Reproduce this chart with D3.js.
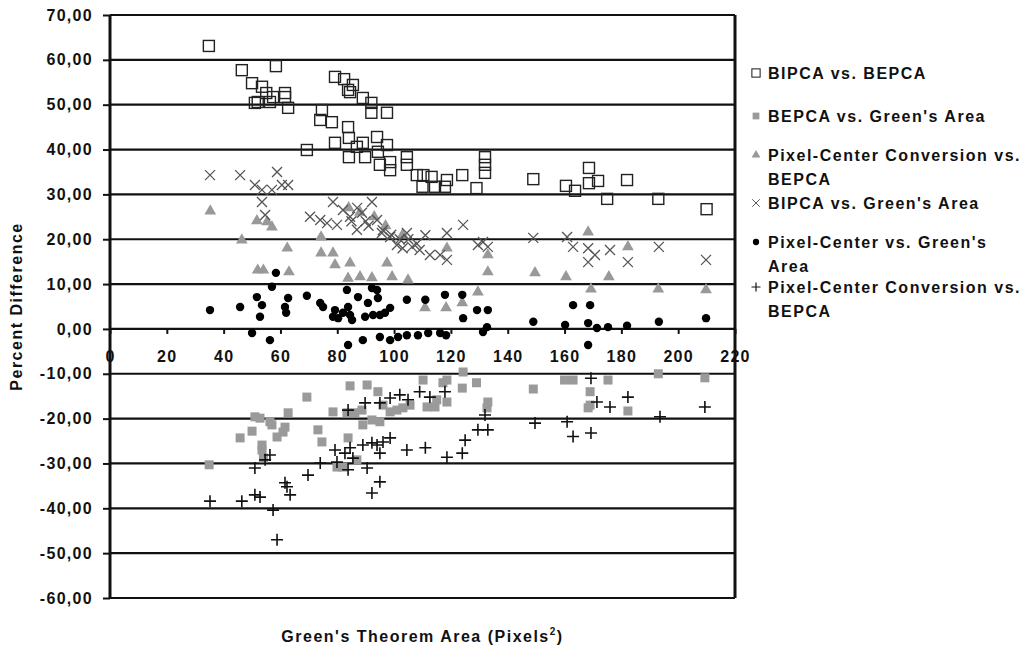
<!DOCTYPE html>
<html>
<head>
<meta charset="utf-8">
<script src="https://cdn.jsdelivr.net/npm/d3@7"></script>
<style>
  body { margin: 0; background: #fff; }
  svg text { font-family: Arial, "Liberation Sans", sans-serif; font-weight: bold; fill: #111; }
</style>
</head>
<body>
<div id="chart"></div>
<script>
// values, [area, percent difference]
const bipcaBepca = [[34.8,63.1],[46.4,57.7],[50,54.8],[53.5,54],[55,52.6],[51,50.4],[52,50.6],[56.3,50.6],[57.4,51.7],[58.4,58.6],[61.6,52.6],[61.6,51.7],[62.7,49.3],[69.3,39.9],[74.6,48.8],[74,46.6],[78.1,46.1],[79.2,56.2],[82.4,55.7],[83.8,53.3],[85.5,54.4],[84.5,52.8],[89,51.5],[92,50.4],[92,48.2],[97.5,48.2],[83.8,45],[79.2,41.5],[84.1,42.6],[84.1,38.3],[86.9,40.6],[89.8,38.3],[89,41.5],[94,42.8],[94.3,39.5],[97.5,41],[95,36.6],[98.6,37.2],[98.6,35.4],[104.5,38.3],[104.5,36.6],[108,34.3],[110.3,34.3],[113.2,33.9],[110,31.7],[114.4,31.7],[118.6,33.2],[117.9,31.7],[124,34.3],[129,31.4],[132,38.3],[132,36.6],[132,34.8],[149,33.4],[160.5,31.9],[163.7,30.8],[168.6,35.9],[168.6,32.5],[171.8,33],[175,29],[182,33.2],[193,29],[210,26.7]];

const bepcaGreen = [[34.9,-30.3],[45.8,-24.3],[50,-22.8],[51,-19.6],[52.8,-19.9],[53.5,-25.9],[53.5,-27],[54,-28.8],[56.3,-20.7],[57,-21.4],[58.8,-24.1],[60.9,-23],[61.6,-21.9],[62.7,-18.7],[69.3,-15.2],[73.2,-22.5],[74.6,-25.2],[78.5,-18.5],[79.9,-30.8],[82,-30.8],[83.8,-24.3],[84.5,-12.7],[83.4,-18.7],[86.2,-18.7],[86.9,-29.2],[88.7,-18.1],[89,-21.4],[90.5,-12.5],[92.2,-20.3],[94.3,-14],[95,-20.7],[96.1,-17],[98.6,-18.5],[101,-18.1],[103.1,-17.6],[105.6,-17],[110.2,-11.4],[111.6,-17.4],[114.4,-17.4],[117.2,-12],[115,-15.8],[118.6,-11.4],[124,-13.2],[129,-12],[118.6,-16.3],[124.3,-9.6],[133,-16.3],[132.7,-17.6],[149,-13.4],[160,-11.4],[163,-11.4],[169,-14],[169,-17],[168.3,-17.6],[175.3,-11.4],[182.3,-18.3],[193,-10],[209.4,-10.9]];

const centerConvBepca = [[35.3,26.3],[46.4,19.8],[51.7,24.1],[55.3,23.9],[57,22.7],[52,13.1],[54,13.1],[62.4,18],[63,12.7],[74.3,20.5],[74.3,16.9],[78.5,16.9],[79.2,14.3],[84.5,14.7],[83.8,11.3],[88,11.6],[92.2,11.4],[97.5,14.7],[99.3,11.6],[104.9,10.9],[110.9,4.7],[84,27],[88,26],[93,25],[97,23],[103,21],[118.6,18],[118.3,4.7],[124,5.8],[129.5,8.2],[133,16.5],[133,12.7],[149.6,12.5],[160.5,11.6],[168.3,21.6],[169.3,8.9],[175.6,11.6],[182.3,18.3],[193,8.9],[209.8,8.7]];

const bipcaGreen = [[35.2,34.3],[45.8,34.3],[51,32.1],[53.5,31],[57,31],[60.5,32.1],[62.7,32.1],[58.8,35],[53.5,28.3],[54.6,25.4],[70.4,25],[74,24.3],[76.4,23.6],[78.5,28.3],[79.9,23.2],[82,26.5],[84.5,25],[86.9,22.1],[88.7,25.9],[92.2,28.3],[94,24.3],[95.7,21.4],[98.6,20.5],[101,18.7],[103,18],[106.3,18.3],[109,17.6],[111,20.9],[112.6,16.5],[116.2,16.5],[85,24],[87,27],[90,24],[91,23],[96,22],[99,21],[102,20],[105,20],[108,19],[104.5,21.4],[118.6,21.4],[124.3,23.2],[118.6,15.4],[131.3,19.4],[133,18.3],[129.5,18.7],[149,20.3],[160.9,20.5],[163,18.3],[168.3,18],[168.3,14.9],[170.7,16.5],[176,17.6],[182.3,14.9],[193.2,18.3],[209.8,15.4]];

const centerGreen = [[35.2,4.2],[45.8,4.9],[51.7,7.1],[53.5,5.3],[52.8,2.7],[50,-0.9],[56.3,-2.5],[58.4,12.5],[57,9.4],[61.6,4.9],[62,3.6],[62.7,6.9],[69.3,7.4],[74,5.8],[75,4.9],[79.2,4.2],[78.5,2.7],[80.3,2.4],[82,3.6],[83.8,4.9],[84.5,3.1],[85.2,2],[83.4,8.7],[83.8,-3.6],[87.3,7.1],[89,-2.5],[89.8,2.7],[90.8,5.8],[92.2,9.1],[94,8.7],[94.3,6.9],[92.6,3.1],[95,3.1],[96.8,3.6],[98.6,4.7],[95,-1.8],[98.6,-2.5],[104.5,6.5],[111,6.5],[117.9,7.6],[101.4,-1.8],[104.5,-1.4],[108.4,-1.4],[112,-0.9],[116.2,-0.9],[118.3,-1.4],[124,7.6],[124.3,2.4],[129.2,4.2],[133,4.2],[132.7,0.4],[131.3,-0.7],[149,1.6],[160.2,0.9],[163,5.3],[169,5.3],[168.3,1.3],[171.4,0.2],[175.3,0.4],[182,0.7],[168.3,-3.6],[193.2,1.6],[209.8,2.4]];

const centerConvBepca2 = [[35.2,-38.4],[46.4,-38.4],[51,-37],[52.8,-37.5],[57.4,-40.4],[58.8,-47],[61.6,-34.3],[62.3,-35.2],[63.4,-37],[51,-31],[54.6,-29.2],[56.3,-28.1],[69.7,-32.6],[74,-29.9],[79.2,-27],[79.9,-29.7],[82.7,-27.7],[83.8,-31.4],[84.5,-26.5],[85.5,-28.8],[89,-25.9],[90.5,-31],[92.2,-36.6],[95,-34.1],[92.2,-25.4],[94,-25.9],[96.1,-25.2],[98.6,-24.3],[95,-27.7],[104.5,-27],[111,-26.5],[118.6,-28.6],[83.8,-18.1],[89.8,-16.5],[95,-16.5],[98.6,-15.4],[102,-14.7],[104.9,-15.8],[109,-14],[112.6,-15.2],[117.9,-14],[124,-27.7],[125,-24.8],[129.5,-22.5],[133,-22.5],[132,-19.2],[149.6,-21],[160.9,-20.7],[163,-24],[169.3,-23.2],[169.3,-11],[171.4,-16.3],[176,-17.4],[182.3,-15.2],[193.6,-19.6],[209.4,-17.4]];

const seriesNames = [
  ["BIPCA vs. BEPCA"],
  ["BEPCA vs. Green's Area"],
  ["Pixel-Center Conversion vs.", "BEPCA"],
  ["BIPCA vs. Green's Area"],
  ["Pixel-Center vs. Green's", "Area"],
  ["Pixel-Center Conversion vs.", "BEPCA"]
];
const yTicks = d3.range(-60, 71, 10);
const xTicks = d3.range(0, 221, 20);

const width = 1026, height = 651;
const x = d3.scaleLinear().domain([0, 220]).range([110, 735]);
const y = d3.scaleLinear().domain([-60, 70]).range([598, 15]);

const svg = d3.select("#chart").append("svg")
  .attr("width", width).attr("height", height);

// grid
svg.append("g").selectAll("line").data(yTicks).join("line")
  .attr("x1", x(0)).attr("x2", x(220))
  .attr("y1", d => y(d)).attr("y2", d => y(d))
  .attr("stroke", "#111").attr("stroke-width", 2.2);

// y axis, excel style labels: comma decimals and a plain hyphen
const yAxis = svg.append("g").attr("transform", `translate(${x(0)},0)`)
  .call(d3.axisLeft(y).tickValues(yTicks).tickSize(7).tickPadding(10)
    .tickFormat(d => d.toFixed(2).replace(".", ",")));
yAxis.select(".domain").remove();
yAxis.selectAll("line").attr("stroke", "#111").attr("stroke-width", 2);
yAxis.selectAll("text").style("font-size", "16px").style("letter-spacing", "1.3px");

// x axis sits on zero
const xAxis = svg.append("g").attr("transform", `translate(0,${y(0)})`)
  .call(d3.axisBottom(x).tickValues(xTicks).tickSize(5).tickPadding(17));
xAxis.select(".domain").remove();
xAxis.selectAll("line").attr("stroke", "#111").attr("stroke-width", 2);
xAxis.selectAll("text").style("font-size", "16px").style("letter-spacing", "1.3px");

// frame
svg.append("line").attr("x1", x(0)).attr("x2", x(0)).attr("y1", y(70)).attr("y2", y(-60))
  .attr("stroke", "#111").attr("stroke-width", 3);
svg.append("line").attr("x1", x(220)).attr("x2", x(220)).attr("y1", y(70)).attr("y2", y(-60))
  .attr("stroke", "#111").attr("stroke-width", 3);

// markers
function marker(sel, kind) {
  if (kind === 0) {
    sel.append("rect").attr("x", -5.5).attr("y", -5.5).attr("width", 11).attr("height", 11)
      .attr("fill", "none").attr("stroke", "#222").attr("stroke-width", 1.4);
  } else if (kind === 1) {
    sel.append("rect").attr("x", -4.5).attr("y", -4.5).attr("width", 9).attr("height", 9)
      .attr("fill", "#9a9a9a");
  } else if (kind === 2) {
    sel.append("path").attr("d", d3.symbol(d3.symbolTriangle, 60)).attr("fill", "#999");
  } else if (kind === 3) {
    sel.append("path").attr("d", "M-5,-5L5,5M-5,5L5,-5")
      .attr("stroke", "#555").attr("stroke-width", 1.3).attr("fill", "none");
  } else if (kind === 4) {
    sel.append("circle").attr("r", 4.2).attr("fill", "#000");
  } else {
    sel.append("path").attr("d", "M-6,0L6,0M0,-6L0,6")
      .attr("stroke", "#111").attr("stroke-width", 1.6).attr("fill", "none");
  }
}

const allSeries = [bipcaBepca, bepcaGreen, centerConvBepca, bipcaGreen, centerGreen, centerConvBepca2];
allSeries.forEach((data, i) => {
  svg.append("g").selectAll("g").data(data).join("g")
    .attr("transform", d => `translate(${x(d[0])},${y(d[1])})`)
    .each(function() { marker(d3.select(this), i); });
});

// axis titles
svg.append("text")
  .attr("transform", `translate(22,${(y(70) + y(-60)) / 2}) rotate(-90)`)
  .attr("text-anchor", "middle")
  .style("font-size", "16px").style("letter-spacing", "1.5px")
  .text("Percent Difference");

const xt = svg.append("text")
  .attr("x", (x(0) + x(220)) / 2).attr("y", 642)
  .attr("text-anchor", "middle")
  .style("font-size", "16px").style("letter-spacing", "1.5px");
xt.append("tspan").text("Green's Theorem Area (Pixels");
xt.append("tspan").attr("dy", -7).style("font-size", "10px").text("2");
xt.append("tspan").attr("dy", 7).text(")");

// legend
const legendRows = [73, 116, 155, 203, 242, 287];
seriesNames.forEach((lines, i) => {
  const g = svg.append("g").attr("transform", `translate(756,${legendRows[i]})`);
  marker(g.append("g").attr("transform", "scale(0.75)"), i);
  lines.forEach((t, j) => {
    g.append("text").attr("x", 12).attr("y", 6 + j * 24)
      .style("font-size", "16px").style("letter-spacing", "1.5px")
      .text(t);
  });
});
</script>
</body>
</html>
